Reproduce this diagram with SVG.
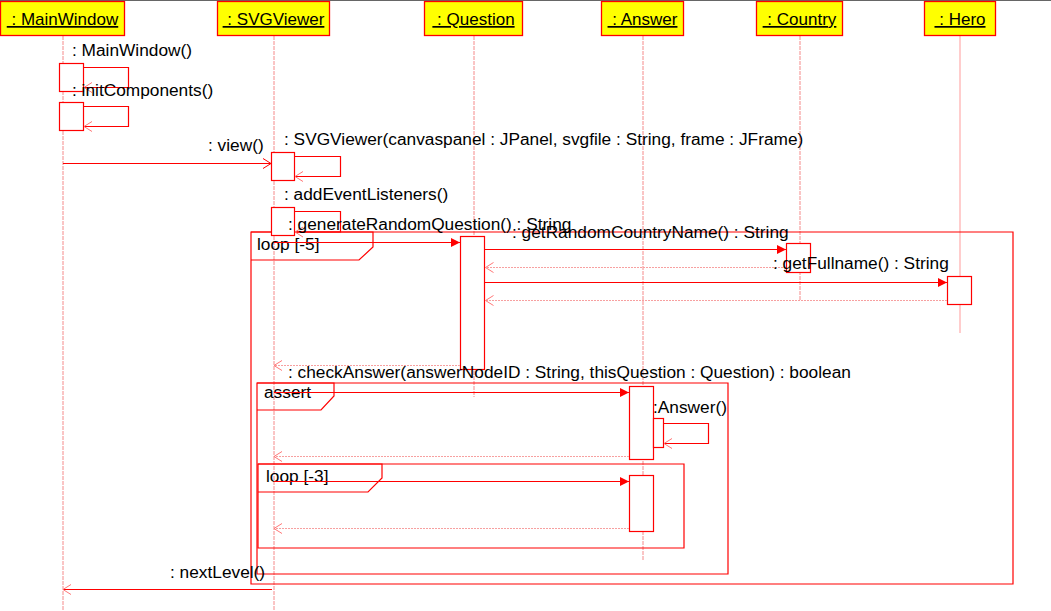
<svg xmlns="http://www.w3.org/2000/svg" width="1051" height="611" viewBox="0 0 1051 611">
<defs>
<style>
text{font-family:"Liberation Sans",Arial,sans-serif;font-size:17.3px;fill:#000}
.hdr{fill:#ffff00;stroke:#f00;stroke-width:1.3}
.hdrt{text-anchor:middle;text-decoration:underline;white-space:pre;font-size:17px}
.life{stroke:#f58a8a;stroke-width:1;stroke-dasharray:4 1;fill:none}
.act{fill:#fff;stroke:#f00;stroke-width:1.2}
.frame{fill:none;stroke:#f00;stroke-width:1.2}
.msg{fill:none;stroke:#f00;stroke-width:1.2}
.ret{fill:none;stroke:#f7a0a0;stroke-width:1;stroke-dasharray:2 1}
</style>
<marker id="fill" viewBox="0 0 9 9" refX="9" refY="4.5" markerWidth="9" markerHeight="9" markerUnits="userSpaceOnUse" orient="auto">
<path d="M0,0 L9,4.5 L0,9 z" fill="#f00"/>
</marker>
<marker id="open" viewBox="0 0 10 12" refX="9" refY="6" markerWidth="10" markerHeight="12" markerUnits="userSpaceOnUse" orient="auto">
<path d="M1,1 L9,6 L1,11" fill="none" stroke="#f00" stroke-width="1"/>
</marker>
<marker id="openp" viewBox="0 0 10 12" refX="9" refY="6" markerWidth="10" markerHeight="12" markerUnits="userSpaceOnUse" orient="auto">
<path d="M1,1 L9,6 L1,11" fill="none" stroke="#f77" stroke-width="1"/>
</marker>
</defs>
<rect x="0" y="0" width="1051" height="611" fill="#fff"/>
<line x1="0" y1="0.5" x2="1051" y2="0.5" stroke="#666" stroke-width="1"/>

<g id="lifelines">
<line class="life" x1="63" y1="36" x2="63" y2="611"/>
<line class="life" x1="274" y1="36" x2="274" y2="611"/>
<line class="life" x1="474" y1="36" x2="474" y2="397"/>
<line class="life" x1="643" y1="36" x2="643" y2="560"/>
<line class="life" x1="800" y1="36" x2="800" y2="300"/>
<line x1="960" y1="36" x2="960" y2="333" stroke="#ffbcbc" stroke-width="1.5"/>
</g>

<g id="node-mainwindow">
<rect class="hdr" x="0.5" y="1.5" width="124" height="34"/>
<text class="hdrt" x="62.5" y="25" xml:space="preserve"> : MainWindow</text>
</g>
<g id="node-svgviewer">
<rect class="hdr" x="217.5" y="1.5" width="112" height="34"/>
<text class="hdrt" x="273.5" y="25" xml:space="preserve"> : SVGViewer</text>
</g>
<g id="node-question">
<rect class="hdr" x="424.5" y="1.5" width="98" height="34"/>
<text class="hdrt" x="473.5" y="25" xml:space="preserve"> : Question</text>
</g>
<g id="node-answer">
<rect class="hdr" x="601.5" y="1.5" width="82" height="34"/>
<text class="hdrt" x="642.5" y="25" xml:space="preserve"> : Answer</text>
</g>
<g id="node-country">
<rect class="hdr" x="756.5" y="1.5" width="86" height="34"/>
<text class="hdrt" x="799.5" y="25" xml:space="preserve"> : Country</text>
</g>
<g id="node-hero">
<rect class="hdr" x="924.5" y="1.5" width="71" height="34"/>
<text class="hdrt" x="960" y="25" xml:space="preserve"> : Hero</text>
</g>

<g id="frames">
<path class="frame" d="M251,232 H1013 V584 H251 Z"/>
<path class="frame" d="M251,232 H373 V247 L359,260 H251"/>
<text x="257" y="250">loop [-5]</text>
<path class="frame" d="M257,383 H728 V574 H257 Z"/>
<path class="frame" d="M257,383 H334 V396 L321,410 H257"/>
<text x="264" y="398">assert</text>
<path class="frame" d="M258,464 H684 V548 H258 Z"/>
<path class="frame" d="M258,464 H382 V478 L368,492 H258"/>
<text x="266" y="482">loop [-3]</text>
</g>

<g id="activations">
<rect class="act" x="59.5" y="63.5" width="24" height="28"/>
<rect class="act" x="59.5" y="102.5" width="24" height="28"/>
<rect class="act" x="271.5" y="152.5" width="23" height="28"/>
<rect class="act" x="271.5" y="207.5" width="23" height="28"/>
<rect class="act" x="460.5" y="236.5" width="24" height="133"/>
<rect class="act" x="786.5" y="243.5" width="24" height="29"/>
<rect class="act" x="947.5" y="276.5" width="24" height="28"/>
<rect class="act" x="629.5" y="386.5" width="24" height="73"/>
<rect class="act" x="653.5" y="418.5" width="10" height="29"/>
<rect class="act" x="629.5" y="475.5" width="24" height="56"/>
</g>

<g id="connectors">
<polyline class="msg" points="83.5,67.5 128.5,67.5 128.5,87.5 84,87.5" marker-end="url(#openp)"/>
<polyline class="msg" points="83.5,106.5 128.5,106.5 128.5,126.5 84,126.5" marker-end="url(#openp)"/>
<line class="msg" x1="63" y1="163.5" x2="271" y2="163.5" marker-end="url(#open)"/>
<polyline class="msg" points="294.5,156.5 340.5,156.5 340.5,176.5 295,176.5" marker-end="url(#openp)"/>
<polyline class="msg" points="294.5,211.5 340.5,211.5 340.5,232 295,232" marker-end="url(#openp)"/>
<line class="msg" x1="274" y1="242.5" x2="460" y2="242.5" marker-end="url(#fill)"/>
<line class="msg" x1="485" y1="249.5" x2="786" y2="249.5" marker-end="url(#fill)"/>
<line class="ret" x1="786" y1="267.5" x2="485.5" y2="267.5" marker-end="url(#openp)"/>
<line class="msg" x1="485" y1="282.5" x2="947" y2="282.5" marker-end="url(#fill)"/>
<line class="ret" x1="947" y1="300.5" x2="485.5" y2="300.5" marker-end="url(#openp)"/>
<line class="ret" x1="460" y1="365.5" x2="274" y2="365.5" marker-end="url(#openp)"/>
<line class="msg" x1="274" y1="392.5" x2="629" y2="392.5" marker-end="url(#fill)"/>
<polyline class="msg" points="663.5,423.5 708.5,423.5 708.5,443.5 664,443.5" marker-end="url(#openp)"/>
<line class="ret" x1="629" y1="456.5" x2="274" y2="456.5" marker-end="url(#openp)"/>
<line class="msg" x1="274" y1="481.5" x2="629" y2="481.5" marker-end="url(#fill)"/>
<line class="ret" x1="629" y1="528.5" x2="274" y2="528.5" marker-end="url(#openp)"/>
<line class="msg" x1="272" y1="589.5" x2="63" y2="589.5" marker-end="url(#openp)"/>
</g>

<g id="labels">
<text x="72" y="55.5">: MainWindow()</text>
<text x="72" y="95.5">: initComponents()</text>
<text x="208" y="150.5">: view()</text>
<text x="284" y="144.5">: SVGViewer(canvaspanel : JPanel, svgfile : String, frame : JFrame)</text>
<text x="284" y="199.5">: addEventListeners()</text>
<text x="288" y="229.5">: generateRandomQuestion() : String</text>
<text x="512" y="237.5">: getRandomCountryName() : String</text>
<text x="773" y="268.5">: getFullname() : String</text>
<text x="288" y="377.5">: checkAnswer(answerNodeID : String, thisQuestion : Question) : boolean</text>
<text x="653" y="412.5">:Answer()</text>
<text x="170" y="577.5">: nextLevel()</text>
</g>
</svg>
